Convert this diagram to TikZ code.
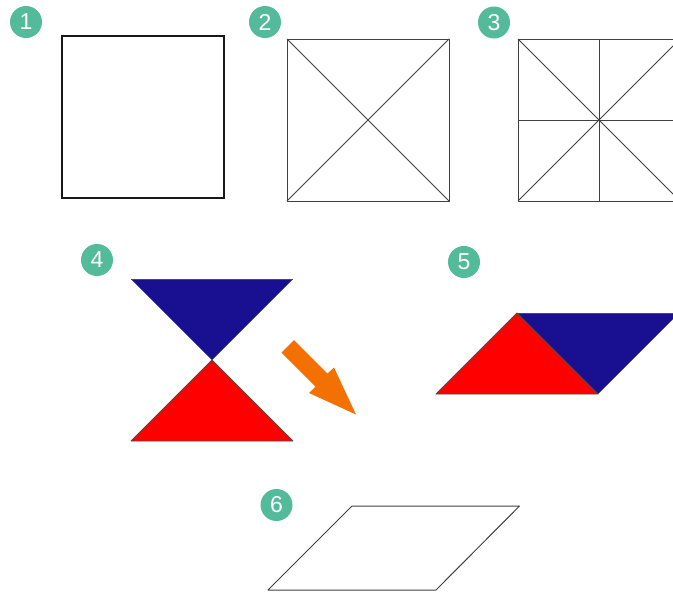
\documentclass[tikz,border=0pt]{standalone}
\usepackage{fontspec}
\setmainfont{Liberation Sans}
\definecolor{badgegreen}{RGB}{84,187,154}
\definecolor{navyfill}{RGB}{25,16,145}
\definecolor{arroworange}{RGB}{243,112,3}
\tikzset{
  badge/.style={circle,fill=badgegreen,text=white,minimum size=32pt,inner sep=0pt,font=\fontsize{23}{23}\selectfont},
  thin line/.style={draw=black!75,line width=1pt,line join=round},
  thick line/.style={draw=black!90,line width=1.5pt,line join=miter},
  tri/.style={draw=black!70,line width=0.8pt,line join=round}
}
\begin{document}
\begin{tikzpicture}[x=1pt,y=-1pt]
\useasboundingbox (0,0) rectangle (673,592);
\clip (0,0) rectangle (673,592);
% 1
\node[badge] (b1) at (26,22) {1};
\draw[thick line] (62,36) rectangle (224,198);
% 2
\node[badge] (b2) at (265,22) {2};
\draw[thin line] (287,39) rectangle (449,201);
\draw[thin line] (287,39) -- (449,201);
\draw[thin line] (449,39) -- (287,201);
% 3
\node[badge] (b3) at (494,22.5) {3};
\draw[thin line] (518,39) rectangle (680,201);
\draw[thin line] (518,39) -- (680,201);
\draw[thin line] (680,39) -- (518,201);
\draw[thin line] (599,39) -- (599,201);
\draw[thin line] (518,120) -- (680,120);
% 4
\node[badge] (b4) at (97,260) {4};
\fill[navyfill] (131,279) -- (293,279) -- (212,360) -- cycle;
\draw[tri] (131,279) -- (293,279);
\fill[red] (212,360) -- (131,441) -- (293,441) -- cycle;
\draw[tri] (212,360) -- (131,441) -- (293,441) -- cycle;
% arrow
\fill[arroworange] (294,340) -- (281.5,352.5) -- (315.5,386.5) -- (309,393) -- (356,414.5) -- (334,367.5) -- (327.5,373.5) -- cycle;
% 5
\node[badge] (b5) at (464,262) {5};
\fill[navyfill] (517,313) -- (679,313) -- (598,394) -- cycle;
\draw[tri] (517,313) -- (679,313);
\fill[red] (436,394) -- (517,313) -- (598,394) -- cycle;
\draw[tri] (436,394) -- (517,313) -- (598,394) -- cycle;
% 6
\node[badge] (b6) at (276.5,505) {6};
\draw[thin line] (352,506) -- (519.5,506) -- (436,590) -- (268,590) -- cycle;
\end{tikzpicture}
\end{document}
